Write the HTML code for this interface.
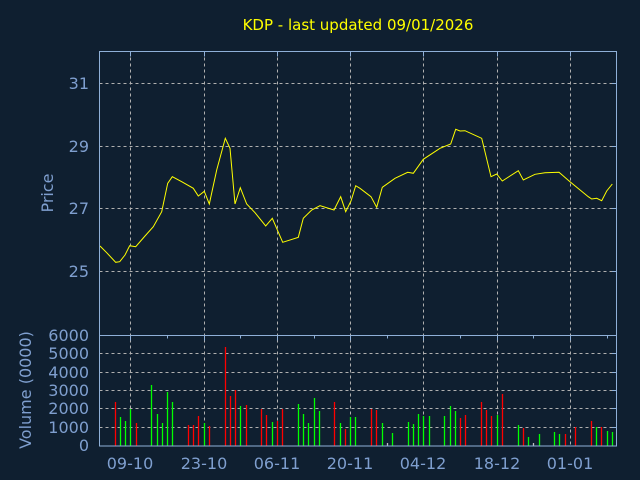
<!DOCTYPE html>
<html><head><meta charset="utf-8"><style>
html,body{margin:0;padding:0;background:#0f1f30;}
svg{display:block;font-family:"DejaVu Sans","Liberation Sans",sans-serif;}
</style></head><body>
<svg width="640" height="480" viewBox="0 0 640 480" xmlns="http://www.w3.org/2000/svg">
<rect width="640" height="480" fill="#0f1f30"/>
<text x="358" y="30" fill="#ffff00" font-size="15" text-anchor="middle">KDP - last updated 09/01/2026</text>
<g stroke="#b0b0b0" stroke-width="1" stroke-dasharray="3,3" fill="none">
<path d="M99.5 83.5H617M99.5 146.5H617M99.5 208.5H617M99.5 271.5H617"/>
<path d="M99.5 353.5H617M99.5 372.5H617M99.5 390.5H617M99.5 408.5H617M99.5 427.5H617"/>
<path d="M130.5 51.5V446M204.5 51.5V446M277.5 51.5V446M350.5 51.5V446M423.5 51.5V446M497.5 51.5V446M570.5 51.5V446"/>
</g>
<g stroke-width="1.3">
<path stroke="#ff0000" d="M115.5 446V402M136.5 446V423M188.5 446V425M193.5 446V425M198.5 446V416M209.5 446V426M225.5 446V347M230.5 446V396M235.5 446V390M246.5 446V405M261.5 446V409M266.5 446V415M277.5 446V421M282.5 446V409M334.5 446V402M345.5 446V429M371.5 446V409M376.5 446V410M460.5 446V418M465.5 446V415M481.5 446V402M486.5 446V410M491.5 446V416M502.5 446V394M523.5 446V428M565.5 446V434M575.5 446V427M591.5 446V421M601.5 446V427"/>
<path stroke="#00ff00" d="M120.5 446V417M125.5 446V421M130.5 446V409M151.5 446V385M157.5 446V414M162.5 446V423M167.5 446V392M172.5 446V402M204.5 446V423M240.5 446V406M272.5 446V422M298.5 446V404M303.5 446V414M308.5 446V423M314.5 446V398M319.5 446V411M340.5 446V423M350.5 446V417M355.5 446V417M382.5 446V423M392.5 446V433M408.5 446V422M413.5 446V424M418.5 446V414M423.5 446V416M429.5 446V416M444.5 446V416M450.5 446V406M455.5 446V411M497.5 446V415M518.5 446V425M528.5 446V437M539.5 446V434M554.5 446V432M559.5 446V434M596.5 446V427M607.5 446V431M612.5 446V432"/>
<path stroke="#c0c0c0" d="M387.5 446V443M533.5 446V443"/>
</g>
<polyline fill="none" stroke="#ffff00" stroke-width="1" points="100,246 106.7,252.7 115.7,262.3 119.7,261.7 125,255 129.7,245.7 135.7,246.7 145,236 153.3,226.7 161.7,211.7 167.7,183.3 172.3,176.7 181.7,181.7 193.3,188.3 198.3,196 204.3,191.3 209.3,204 216.7,170 225.3,138.3 230,148.3 235,204 240.3,187.7 246.7,204 255,212.7 265.7,226 272.3,218.3 282.7,242.3 298.3,237.3 303.3,218.3 311.7,210 320,205.7 334,210 340.7,196.7 345.7,211.7 351,201 355.7,185.7 360,188.3 371,196.7 376.7,207.3 382.3,187.3 395,178.3 407.7,172.3 413.3,173.3 423.3,159.3 440,148.3 450.7,144 455.7,129.3 460,131 465,130.7 481.7,138.3 491,176.7 496.7,174 502.3,181 518.3,170.7 523.3,180 535,174.3 545,172.7 559,172.3 570,181.7 588.3,196.7 591.7,199 596.7,198.3 601.7,200.7 606.7,191 612.3,184"/>
<g stroke="#8fb0d8" stroke-width="1" fill="none">
<rect x="99.5" y="51.5" width="517" height="394.5"/>
<path d="M99.5 335.5H617"/>
<path d="M130.5 335.5v5M204.5 335.5v5M277.5 335.5v5M350.5 335.5v5M423.5 335.5v5M497.5 335.5v5M570.5 335.5v5M167.5 335.5v3M240.5 335.5v3M314.5 335.5v3M387.5 335.5v3M460.5 335.5v3M533.5 335.5v3M607.5 335.5v3"/>
<path d="M130.5 51.5v5M204.5 51.5v5M277.5 51.5v5M350.5 51.5v5M423.5 51.5v5M497.5 51.5v5M570.5 51.5v5"/>
<path d="M612 83.5h5M612 146.5h5M612 208.5h5M612 271.5h5M612 353.5h5M612 372.5h5M612 390.5h5M612 408.5h5M612 427.5h5"/>
</g>
<g fill="#7f9fcf" font-size="16" text-anchor="end">
<text x="89" y="89">31</text>
<text x="89" y="152">29</text>
<text x="89" y="214">27</text>
<text x="89" y="277">25</text>
<text x="89" y="341">6000</text>
<text x="89" y="359">5000</text>
<text x="89" y="378">4000</text>
<text x="89" y="396">3000</text>
<text x="89" y="414">2000</text>
<text x="89" y="433">1000</text>
<text x="89" y="451">0</text>
</g>
<g fill="#7f9fcf" font-size="16" text-anchor="middle">
<text x="130" y="469">09-10</text>
<text x="204" y="469">23-10</text>
<text x="277" y="469">06-11</text>
<text x="350" y="469">20-11</text>
<text x="423" y="469">04-12</text>
<text x="497" y="469">18-12</text>
<text x="570" y="469">01-01</text>
<text transform="translate(53,193) rotate(-90)">Price</text>
<text transform="translate(31,390) rotate(-90)">Volume (0000)</text>
</g>
</svg>
</body></html>
